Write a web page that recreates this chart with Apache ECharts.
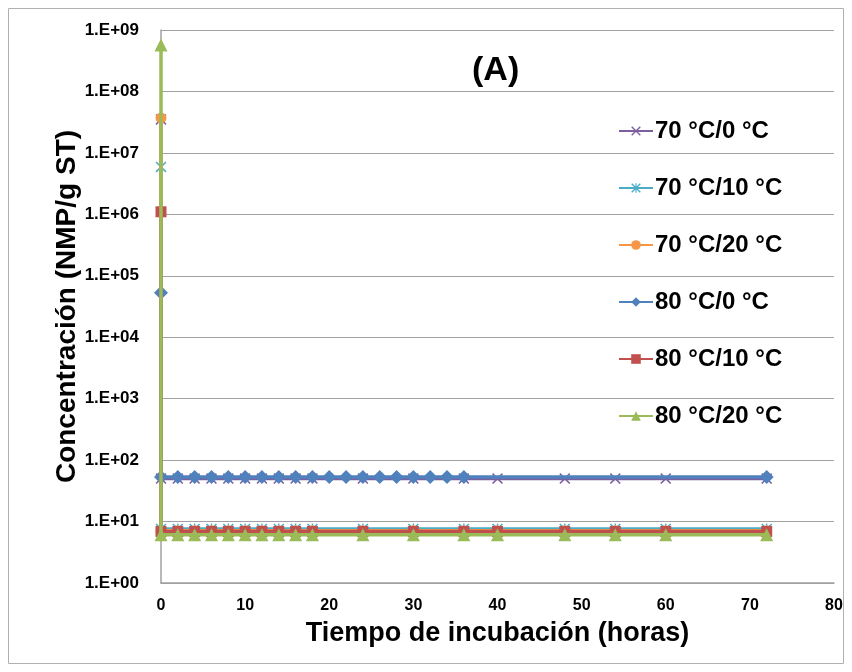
<!DOCTYPE html>
<html><head><meta charset="utf-8">
<script src="https://cdn.jsdelivr.net/npm/echarts@6/dist/echarts.min.js"></script>
<style>html,body{margin:0;padding:0;background:#fff}#c{width:852px;height:672px}</style>
</head><body><div id="c"></div>
<script>
// ---- data ----
var seriesNames = ['70 °C/0 °C','70 °C/10 °C','70 °C/20 °C','80 °C/0 °C','80 °C/10 °C','80 °C/20 °C'];
var hoursA = [0,0,2,4,6,8,10,12,14,16,18,24,30,36,40,48,54,60,72];
var hoursB = [0,0,2,4,6,8,10,12,14,16,18,20,22,24,26,28,30,32,34,36,72];
var val70_0  = [3.5e7,50,50,50,50,50,50,50,50,50,50,50,50,50,50,50,50,50,50];
var val70_10 = [5.9e6,7.6,7.6,7.6,7.6,7.6,7.6,7.6,7.6,7.6,7.6,7.6,7.6,7.6,7.6,7.6,7.6,7.6,7.6];
var val70_20 = [3.7e7,7.1,7.1,7.1,7.1,7.1,7.1,7.1,7.1,7.1,7.1,7.1,7.1,7.1,7.1,7.1,7.1,7.1,7.1];
var val80_0  = [5.3e4,53,53,53,53,53,53,53,53,53,53,53,53,53,53,53,53,53,53,53,53];
var val80_10 = [1.1e6,6.9,6.9,6.9,6.9,6.9,6.9,6.9,6.9,6.9,6.9,6.9,6.9,6.9,6.9,6.9,6.9,6.9,6.9];
var val80_20 = [5.7e8,6.1,6.1,6.1,6.1,6.1,6.1,6.1,6.1,6.1,6.1,6.1,6.1,6.1,6.1,6.1,6.1,6.1,6.1];
var yTicks = ['1.E+00','1.E+01','1.E+02','1.E+03','1.E+04','1.E+05','1.E+06','1.E+07','1.E+08','1.E+09'];

function pairs(xs, ys){ return xs.map(function(x,i){ return [x, ys[i]]; }); }

var colors = ['#7D5FA0','#4BACC6','#F79646','#4F81BD','#C0504D','#9BBB59'];
var symX = 'path://M1,0L5,4L9,0L10,1L6,5L10,9L9,10L5,6L1,10L0,9L4,5L0,1Z';
var symAst = 'path://M1,0L10,9L9,10L0,1Z M9,0L10,1L1,10L0,9Z M4.4,0L5.6,0L5.6,10L4.4,10Z';
var symbols = [symX, symAst, 'circle', 'diamond', 'rect', 'triangle'];
var sizes = [11, 11, 11, 14, 11, 13];
var datas = [pairs(hoursA,val70_0), pairs(hoursA,val70_10), pairs(hoursA,val70_20), pairs(hoursB,val80_0), pairs(hoursA,val80_10), pairs(hoursA,val80_20)];

var FONT = '"Liberation Sans", Arial, sans-serif';
var chart = echarts.init(document.getElementById('c'));
chart.setOption({
  animation: false,
  backgroundColor: '#fff',
  title: { text: '(A)', left: 467, top: 49, textStyle: { fontFamily: FONT, fontSize: 34, fontWeight: 'bold', color: '#000' } },
  graphic: [{ type: 'rect', shape: { x: 8.5, y: 8.5, width: 835, height: 655 }, style: { fill: 'none', stroke: '#b0b0b0', lineWidth: 1 }, silent: true, z: -1 }],
  legend: {
    orient: 'vertical', left: 613, top: 114, itemWidth: 34, itemHeight: 12, itemGap: 33,
    textStyle: { fontFamily: FONT, fontSize: 24, fontWeight: 'bold', color: '#000', padding: [0,0,0,-3] },
    data: seriesNames
  },
  grid: { left: 161, right: 18, top: 30, bottom: 89, containLabel: false },
  xAxis: {
    type: 'value', min: 0, max: 80, interval: 10,
    name: 'Tiempo de incubación (horas)', nameLocation: 'middle', nameGap: 37,
    nameTextStyle: { fontFamily: FONT, fontSize: 27, fontWeight: 'bold', color: '#000' },
    axisLine: { onZero: false, lineStyle: { color: '#a0a0a0', width: 1.5 } },
    axisTick: { show: false },
    splitLine: { show: false },
    axisLabel: { margin: 15, fontFamily: FONT, fontSize: 16, fontWeight: 'bold', color: '#000' }
  },
  yAxis: {
    type: 'log', logBase: 10, min: 1, max: 1e9,
    name: 'Concentración (NMP/g ST)', nameLocation: 'middle', nameGap: 80, nameMoveOverlap: false,
    nameTextStyle: { fontFamily: FONT, fontSize: 28, fontWeight: 'bold', color: '#000' },
    axisLine: { show: true, lineStyle: { color: '#a0a0a0', width: 1.5 } },
    axisTick: { show: false },
    splitLine: { show: true, lineStyle: { color: '#a0a0a0', width: 1.2 } },
    axisLabel: { margin: 22, fontFamily: FONT, fontSize: 17, fontWeight: 'bold', color: '#000',
      formatter: function(v){ var e = Math.round(Math.log10(v)); return yTicks[e]; } }
  },
  series: seriesNames.map(function(n,i){
    return { name: n, type: 'line', data: datas[i], symbol: symbols[i], symbolSize: sizes[i],
      showAllSymbol: true, color: colors[i],
      lineStyle: { color: colors[i], width: 3.5 }, itemStyle: { color: colors[i] }, z: 2 + i };
  })
});
</script></body></html>
